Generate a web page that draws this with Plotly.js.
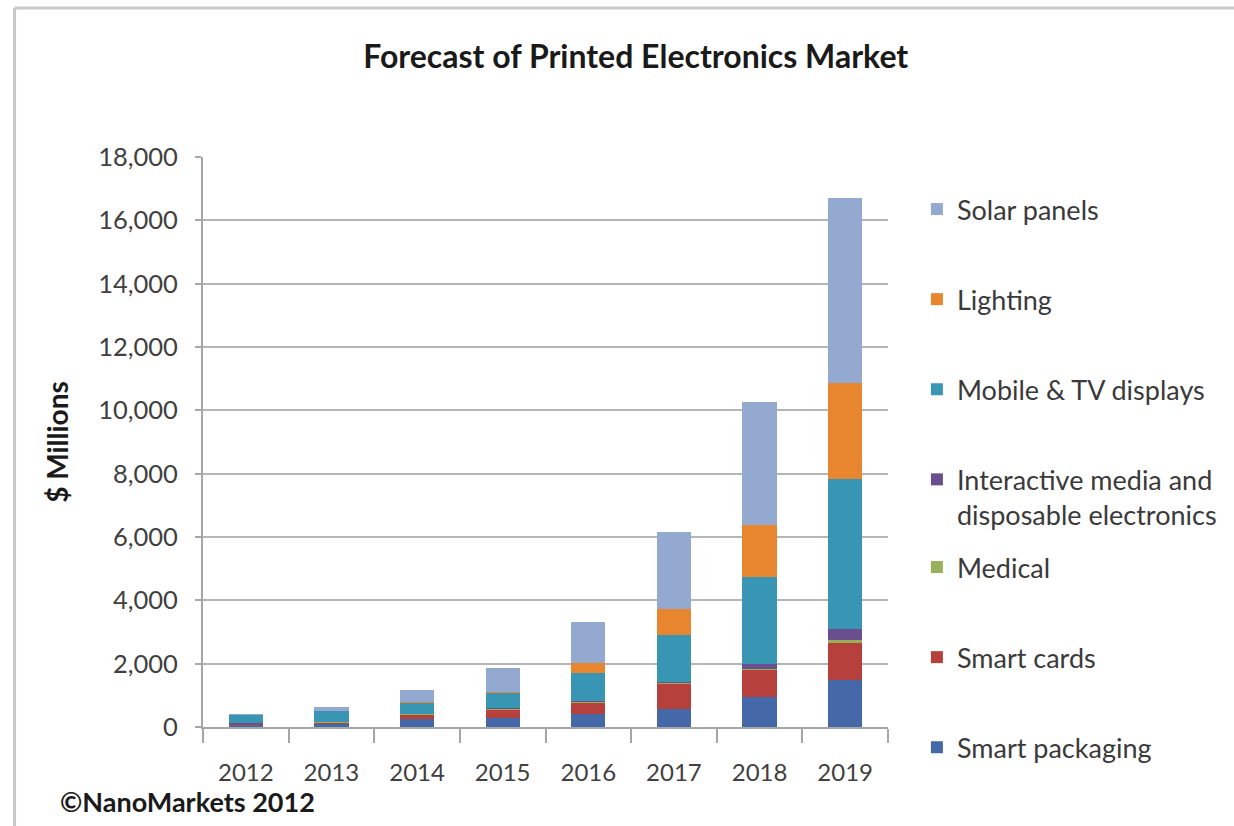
<!DOCTYPE html>
<html>
<head>
<meta charset="utf-8">
<script src="https://cdn.plot.ly/plotly-3.0.1.min.js"></script>
<style>
  html, body { margin: 0; padding: 0; background: #ffffff; }
  #chart { width: 1234px; height: 826px; }
</style>
</head>
<body>
<div id="chart"></div>
<script>
// ---- Data ($ Millions) ----
const years = ["2012", "2013", "2014", "2015", "2016", "2017", "2018", "2019"];

const smartPackaging = [60, 90, 250, 300, 420, 580, 950, 1490];
const smartCards     = [30, 50, 130, 230, 350, 780, 840, 1150];
const medical        = [20, 20, 20, 40, 20, 30, 50, 100];
const interactive    = [10, 10, 20, 20, 20, 30, 160, 340];
const mobileTV       = [270, 330, 350, 480, 900, 1475, 2740, 4750];
const lighting       = [0, 10, 20, 30, 320, 840, 1630, 3020];
const solarPanels    = [30, 110, 370, 770, 1280, 2420, 3890, 5850];

const yTickVals = [0, 2000, 4000, 6000, 8000, 10000, 12000, 14000, 16000, 18000];

// Stacking order bottom -> top; rank = position in the legend (top -> bottom)
const series = [
  { name: "Smart packaging", values: smartPackaging, color: "#4468a8", legend: "legend2", rank: 7 },
  { name: "Smart cards",     values: smartCards,     color: "#b5403c", legend: "legend2", rank: 6 },
  { name: "Medical",         values: medical,        color: "#98b05a", legend: "legend2", rank: 5 },
  { name: "Interactive media and<br>disposable electronics", values: interactive, color: "#6a4f8f", legend: "legend", rank: 4 },
  { name: "Mobile & TV displays", values: mobileTV,  color: "#3896b4", legend: "legend", rank: 3 },
  { name: "Lighting",        values: lighting,       color: "#e8852f", legend: "legend", rank: 2 },
  { name: "Solar panels",    values: solarPanels,    color: "#93a9d0", legend: "legend", rank: 1 }
];

const traces = series.map((s, i) => ({
  type: "bar",
  name: s.name,
  x: years,
  y: s.values,
  marker: { color: s.color, line: { width: 0 } },
  legend: s.legend,
  legendgroup: "g" + i,
  legendrank: s.rank,
  hoverinfo: "name+y"
}));

// ---- Geometry helpers (plot area in px) ----
const W = 1234, H = 826;
const L = 203, R = 890, T = 157, B = 727;
const px = x => (x - L) / (R - L);
const py = y => (B - y) / (B - T);

const FONT = "Lato, 'Open Sans', 'DejaVu Sans', sans-serif";

const legendCommon = {
  x: px(919), xanchor: "left",
  yanchor: "top",
  traceorder: "grouped",
  tracegroupgap: 52,
  valign: "top",
  font: { family: FONT, size: 27, color: "#3a3a3a" },
  bgcolor: "rgba(0,0,0,0)",
  borderwidth: 0
};

const layout = {
  width: W,
  height: H,
  margin: { l: L, r: W - R, t: T, b: H - B, pad: 0 },
  paper_bgcolor: "#ffffff",
  plot_bgcolor: "#ffffff",
  barmode: "stack",
  bargap: 0.6,
  font: { family: FONT, color: "#404040", size: 24 },
  title: {
    text: "<b>Forecast of Printed Electronics Market</b>",
    font: { family: FONT, size: 32, color: "#1a1a1a" },
    x: px(637), xref: "paper", xanchor: "center",
    y: 1 - 57 / H, yref: "container", yanchor: "middle"
  },
  xaxis: {
    type: "category",
    showgrid: false,
    showline: true,
    linecolor: "#a6a6a6",
    linewidth: 2,
    ticks: "outside",
    tickson: "boundaries",
    ticklen: 14,
    tickwidth: 2,
    tickcolor: "#a6a6a6",
    tickfont: { family: FONT, size: 24, color: "#404040" },
    ticklabelstandoff: 23,
    fixedrange: true
  },
  yaxis: {
    range: [0, 18000],
    tickvals: yTickVals,
    tickformat: ",",
    showgrid: true,
    gridcolor: "#b5b5b5",
    gridwidth: 2,
    zeroline: false,
    showline: true,
    linecolor: "#a6a6a6",
    linewidth: 2,
    ticks: "outside",
    ticklen: 6,
    tickwidth: 2,
    tickcolor: "#a6a6a6",
    tickfont: { family: FONT, size: 25.5, color: "#404040" },
    ticklabelstandoff: 12,
    title: {
      text: "<b>$ Millions</b>",
      font: { family: FONT, size: 28, color: "#1a1a1a" },
      standoff: 21
    },
    fixedrange: true
  },
  legend: Object.assign({}, legendCommon, { y: py(185) }),
  legend2: Object.assign({}, legendCommon, { y: py(543) }),
  annotations: [
    {
      text: "<b>©NanoMarkets 2012</b>",
      xref: "paper", yref: "paper",
      x: px(58), y: py(801),
      xanchor: "left", yanchor: "middle",
      showarrow: false,
      font: { family: FONT, size: 27, color: "#1a1a1a" }
    }
  ],
  shapes: [
    { type: "line", xref: "paper", yref: "paper",
      x0: px(14), x1: px(W + 5), y0: py(8), y1: py(8),
      line: { color: "#c8c8c8", width: 3 } },
    { type: "line", xref: "paper", yref: "paper",
      x0: px(14), x1: px(14), y0: py(8), y1: py(H + 5),
      line: { color: "#c8c8c8", width: 3 } }
  ],
  showlegend: true
};

Plotly.newPlot("chart", traces, layout, { displayModeBar: false, staticPlot: true });
</script>
</body>
</html>
